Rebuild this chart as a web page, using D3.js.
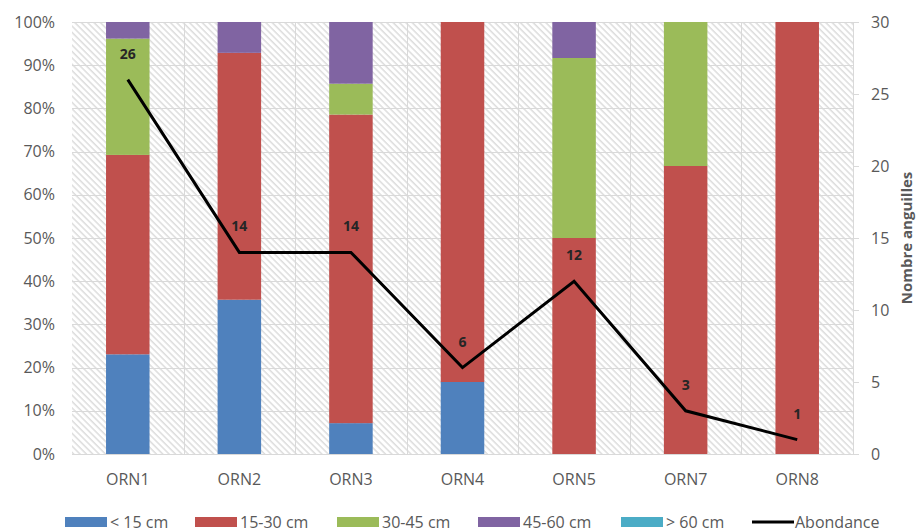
<!DOCTYPE html>
<html>
<head>
<meta charset="utf-8">
<script src="https://cdn.jsdelivr.net/npm/d3@7"></script>
<style>
  html, body { margin: 0; padding: 0; background: #fff; }
  svg { display: block; font-family: "Open Sans", "Segoe UI", sans-serif; }
</style>
</head>
<body>
<svg id="chart" width="920" height="532"></svg>
<script>
// Stations échantillonnées
const stations = ["ORN1", "ORN2", "ORN3", "ORN4", "ORN5", "ORN7", "ORN8"];
// Classes de taille
const classes = ["< 15 cm", "15-30 cm", "30-45 cm", "45-60 cm", "> 60 cm"];
const classColors = ["#4F81BD", "#C0504D", "#9BBB59", "#8064A2", "#4BACC6"];
// Effectifs par classe de taille et par station
const lt15   = [6, 5, 1, 1, 0, 0, 0];
const c15_30 = [12, 8, 10, 5, 6, 2, 1];
const c30_45 = [7, 0, 1, 0, 5, 1, 0];
const c45_60 = [1, 1, 2, 0, 1, 0, 0];
const gt60   = [0, 0, 0, 0, 0, 0, 0];
// Nombre total d'anguilles par station
const abondance = [26, 14, 14, 6, 12, 3, 1];
// Graduations
const pctTicks = [0, 0.1, 0.2, 0.3, 0.4, 0.5, 0.6, 0.7, 0.8, 0.9, 1];
const countTicks = [0, 5, 10, 15, 20, 25, 30];

const series = [lt15, c15_30, c30_45, c45_60, gt60];

const svg = d3.select("#chart");
const plot = { left: 72, right: 853, top: 22, bottom: 454 };

const x = d3.scaleBand().domain(stations).range([plot.left, plot.right]).paddingInner(0).paddingOuter(0);
const barPad = 0.305;
const y = d3.scaleLinear().domain([0, 1]).range([plot.bottom, plot.top]);
const y2 = d3.scaleLinear().domain([0, 30]).range([plot.bottom, plot.top]);

// Hachures du fond
const defs = svg.append("defs");
const pat = defs.append("pattern")
  .attr("id", "hatch")
  .attr("patternUnits", "userSpaceOnUse")
  .attr("width", 4.5).attr("height", 4.5)
  .attr("patternTransform", "rotate(-45)");
pat.append("rect").attr("width", 4.5).attr("height", 4.5).attr("fill", "#ffffff");
pat.append("line").attr("x1", 1).attr("y1", 0).attr("x2", 1).attr("y2", 4.5)
  .attr("stroke", "#d4d4d4").attr("stroke-width", 1.2);

svg.append("rect")
  .attr("x", plot.left).attr("y", plot.top)
  .attr("width", plot.right - plot.left).attr("height", plot.bottom - plot.top)
  .attr("fill", "url(#hatch)");

// Quadrillage horizontal
svg.append("g").selectAll("line").data(pctTicks).join("line")
  .attr("x1", plot.left).attr("x2", plot.right)
  .attr("y1", d => Math.round(y(d)) + 0.5).attr("y2", d => Math.round(y(d)) + 0.5)
  .attr("stroke", "#d9d9d9").attr("stroke-width", 1);

// Quadrillage vertical entre stations
svg.append("g").selectAll("line").data(stations.slice(1)).join("line")
  .attr("x1", d => Math.round(x(d)) + 0.5).attr("x2", d => Math.round(x(d)) + 0.5)
  .attr("y1", plot.top).attr("y2", plot.bottom)
  .attr("stroke", "#d9d9d9").attr("stroke-width", 1);

// Barres empilées à 100 %
const rows = stations.map((s, i) => {
  const row = { station: s };
  const total = d3.sum(series, arr => arr[i]);
  classes.forEach((c, k) => { row[c] = total ? series[k][i] / total : 0; });
  return row;
});
const stacked = d3.stack().keys(classes)(rows);
const bw = x.bandwidth() * (1 - 2 * barPad);

svg.append("g").selectAll("g").data(stacked).join("g")
  .attr("fill", (d, k) => classColors[k])
  .selectAll("rect").data(d => d).join("rect")
  .attr("x", d => x(d.data.station) + x.bandwidth() * barPad)
  .attr("width", bw)
  .attr("y", d => y(d[1]))
  .attr("height", d => Math.max(0, y(d[0]) - y(d[1])));

// Axe gauche (pourcentages)
svg.append("g").selectAll("text").data(pctTicks).join("text")
  .attr("x", 55).attr("y", d => y(d))
  .attr("dy", "0.35em")
  .attr("text-anchor", "end")
  .attr("font-size", 16).attr("fill", "#595959")
  .text(d => d3.format(".0%")(d));

// Axe droit (effectifs)
svg.append("line")
  .attr("x1", plot.right + 0.5).attr("x2", plot.right + 0.5)
  .attr("y1", plot.top).attr("y2", plot.bottom)
  .attr("stroke", "#d9d9d9");
svg.append("g").selectAll("line").data(countTicks).join("line")
  .attr("x1", plot.right).attr("x2", plot.right + 6)
  .attr("y1", d => Math.round(y2(d)) + 0.5).attr("y2", d => Math.round(y2(d)) + 0.5)
  .attr("stroke", "#d9d9d9");
svg.append("g").selectAll("text").data(countTicks).join("text")
  .attr("x", 871).attr("y", d => y2(d))
  .attr("dy", "0.35em")
  .attr("font-size", 16).attr("fill", "#595959")
  .text(d => d);
svg.append("text")
  .attr("transform", `translate(912, ${(plot.top + plot.bottom) / 2}) rotate(-90)`)
  .attr("text-anchor", "middle")
  .attr("font-size", 15).attr("font-weight", "bold").attr("fill", "#595959")
  .text("Nombre anguilles");

// Étiquettes des stations
svg.append("g").selectAll("text").data(stations).join("text")
  .attr("x", d => x(d) + x.bandwidth() / 2).attr("y", 479)
  .attr("dy", "0.35em")
  .attr("text-anchor", "middle")
  .attr("font-size", 16).attr("fill", "#595959")
  .text(d => d);

// Courbe d'abondance
const line = d3.line()
  .x((d, i) => x(stations[i]) + x.bandwidth() / 2)
  .y(d => y2(d));
svg.append("path")
  .datum(abondance)
  .attr("d", line)
  .attr("fill", "none")
  .attr("stroke", "#000")
  .attr("stroke-width", 3)
  .attr("stroke-linejoin", "miter");

svg.append("g").selectAll("text").data(abondance).join("text")
  .attr("x", (d, i) => x(stations[i]) + x.bandwidth() / 2)
  .attr("y", d => y2(d) - 21)
  .attr("text-anchor", "middle")
  .attr("font-size", 14).attr("font-weight", "bold").attr("fill", "#262626")
  .text(d => d);

// Légende
const legendItems = classes.map((c, k) => ({ label: c, color: classColors[k], type: "rect" }))
  .concat([{ label: "Abondance", color: "#000", type: "line" }]);
const legendX = [65, 195, 337, 478, 621, 752];
const lg = svg.append("g").selectAll("g").data(legendItems).join("g")
  .attr("transform", (d, i) => `translate(${legendX[i]}, 522)`);
lg.filter(d => d.type === "rect").append("rect")
  .attr("x", 0).attr("y", -5).attr("width", 42).attr("height", 10)
  .attr("fill", d => d.color);
lg.filter(d => d.type === "line").append("line")
  .attr("x1", 0).attr("x2", 42).attr("y1", 0).attr("y2", 0)
  .attr("stroke", d => d.color).attr("stroke-width", 3);
lg.append("text")
  .attr("x", d => d.type === "line" ? 43 : 45).attr("y", 0)
  .attr("dy", "0.35em")
  .attr("font-size", 16).attr("fill", "#595959")
  .text(d => d.label);
</script>
</body>
</html>
